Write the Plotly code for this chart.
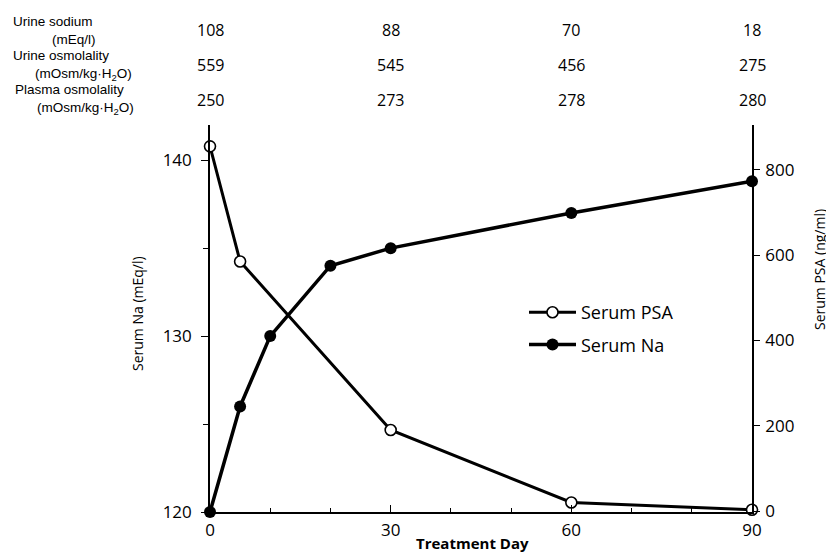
import plotly.graph_objects as go

# ---- data ----
na_days = [0, 5, 10, 20, 30, 60, 90]
serum_na = [120, 126, 130, 134, 135, 137, 138.8]

psa_days = [0, 5, 30, 60, 90]
serum_psa = [855, 585, 190, 20, 3]

table_days = [0, 30, 60, 90]
urine_sodium = [108, 88, 70, 18]
urine_osm = [559, 545, 456, 275]
plasma_osm = [250, 273, 278, 280]
row_titles = ["Urine sodium", "Urine osmolality", "Plasma osmolality"]
row_units = ["(mEq/l)", "(mOsm/kg·H<sub>2</sub>O)", "(mOsm/kg·H<sub>2</sub>O)"]

FONT = "Open Sans"
LAB = "Liberation Sans"

fig = go.Figure()
fig.add_trace(go.Scatter(
    x=psa_days, y=serum_psa, name="Serum PSA", yaxis="y2",
    mode="lines+markers", cliponaxis=False,
    line=dict(color="black", width=3),
    marker=dict(symbol="circle", size=11, color="white",
                line=dict(color="black", width=1.6)),
    legendgroup="a",
))
fig.add_trace(go.Scatter(
    x=na_days, y=serum_na, name="Serum Na", yaxis="y",
    mode="lines+markers", cliponaxis=False,
    line=dict(color="black", width=3.5),
    marker=dict(symbol="circle", size=12, color="black"),
    legendgroup="b",
))

# page body has an 8px margin; positions below are screen positions
OFF = 8
W, H = 834, 553
PL, PR, PT, PB = 210, 752, 125, 512   # plot area on screen
L = PL - OFF
R = W - (PR - OFF)
T = PT - OFF
B = H - (PB - OFF)
ph = PB - PT
pw = PR - PL

def py(p):
    return (PB - p) / ph

def px(p):
    return (p - PL) / pw

annotations = []
rows = [urine_sodium, urine_osm, plasma_osm]
row_y = [30, 65, 100]
for vals, yy in zip(rows, row_y):
    for d, v in zip(table_days, vals):
        annotations.append(dict(x=d, xref="x", y=py(yy), yref="paper",
                                text=str(v), showarrow=False,
                                font=dict(family=FONT, size=16, color="black"),
                                xanchor="center", yanchor="middle"))
title_x = [11, 11, 13]
title_y = [21, 56, 90]
unit_x = [50, 33, 35]
unit_y = [40, 74, 108]
for i, (t, u) in enumerate(zip(row_titles, row_units)):
    annotations.append(dict(x=px(title_x[i]), xref="paper", y=py(title_y[i]), yref="paper",
                            text=t, showarrow=False,
                            font=dict(family=LAB, size=13.5, color="black"),
                            xanchor="left", yanchor="middle"))
    annotations.append(dict(x=px(unit_x[i]), xref="paper", y=py(unit_y[i]), yref="paper",
                            text=u, showarrow=False,
                            font=dict(family=LAB, size=13.5, color="black"),
                            xanchor="left", yanchor="middle"))

# axis titles
annotations.append(dict(x=px(472), xref="paper", y=py(543), yref="paper",
                        text="<b>Treatment Day</b>", showarrow=False,
                        font=dict(family=FONT, size=15, color="black"),
                        xanchor="center", yanchor="middle", borderpad=0))
annotations.append(dict(x=px(137), xref="paper", y=py(314), yref="paper",
                        text="Serum Na (mEq/l)", showarrow=False, textangle=-90,
                        font=dict(family=FONT, size=14, color="black"),
                        xanchor="center", yanchor="middle"))
annotations.append(dict(x=px(819), xref="paper", y=py(270), yref="paper",
                        text="Serum PSA (ng/ml)", showarrow=False, textangle=-90,
                        font=dict(family=FONT, size=14, color="black"),
                        xanchor="center", yanchor="middle"))

fig.update_layout(
    width=W, height=H,
    margin=dict(l=L, r=R, t=T, b=B, autoexpand=False),
    paper_bgcolor="white", plot_bgcolor="white",
    font=dict(family=FONT, size=16, color="black"),
    showlegend=True,
    legend=dict(x=px(524), y=py(294), xanchor="left", yanchor="top",
                bgcolor="rgba(0,0,0,0)", font=dict(size=18, family=FONT),
                traceorder="grouped", tracegroupgap=6, itemwidth=47),
    xaxis=dict(range=[0, 90], showline=True, linecolor="black", linewidth=1.6,
               showgrid=False, zeroline=False,
               tickvals=[0, 30, 60, 90], ticks="inside", ticklen=7, tickwidth=1.3,
               tickcolor="black",
               minor=dict(dtick=10, ticks="inside", ticklen=4, tickwidth=1.2, tickcolor="black", showgrid=False),
               tickfont=dict(size=17), ticklabelstandoff=2),
    yaxis=dict(range=[120, 142], showline=True, linecolor="black", linewidth=1.6,
               showgrid=False, zeroline=False,
               tickvals=[120, 130, 140], ticks="outside", ticklen=7, tickwidth=1.3,
               tickcolor="black",
               minor=dict(dtick=5, ticks="outside", ticklen=5, tickwidth=1.2, tickcolor="black", showgrid=False),
               tickfont=dict(size=17), ticklabelstandoff=6),
    yaxis2=dict(range=[-2.3, 905], overlaying="y", side="right", anchor="x",
                showline=True, linecolor="black", linewidth=1.6,
                showgrid=False, zeroline=False,
                tickvals=[0, 200, 400, 600, 800], ticks="outside", ticklen=6, tickwidth=1.3,
                tickcolor="black",
                tickfont=dict(size=17), ticklabelstandoff=2),
    annotations=annotations,
)

fig.write_html("out.html")
